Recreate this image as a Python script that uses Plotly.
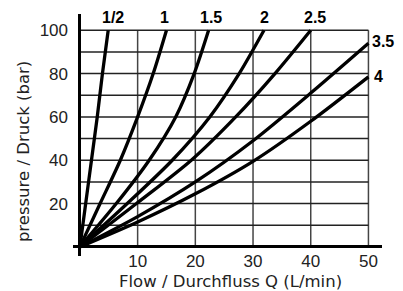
import plotly.graph_objects as go

# ---- data ----
pressure_steps = [0, 20, 40, 60, 80, 100]          # bar
flow_half = [0, 1.0, 2.0, 3.0, 3.9, 4.9]            # L/min, curve "1/2"
flow_1 = [0, 3.5, 7.0, 10.0, 12.7, 15.0]            # curve "1"
flow_1_5 = [0, 6.3, 12.0, 16.6, 19.8, 22.3]         # curve "1.5"
flow_2 = [0, 8.2, 16.0, 22.5, 27.6, 31.9]           # curve "2"
flow_2_5 = [0, 9.8, 19.3, 27.0, 33.8, 40.0]         # curve "2.5"

flow_steps = [0, 10, 20, 30, 40, 50]                # L/min
pressure_3_5 = [0, 14.0, 30.0, 49.0, 71.0, 94.0]    # curve "3.5"
pressure_4 = [0, 11.5, 24.5, 39.5, 58.0, 78.5]      # curve "4"

curve_labels = ["1/2", "1", "1.5", "2", "2.5", "3.5", "4"]
label_q = [5.7, 14.7, 22.7, 31.9, 40.7, 50.3, 50.7]
label_p = [106, 106, 106, 106, 106, 95, 78.5]
label_anchor = ["center", "center", "center", "center", "center", "left", "left"]

x_ticks = [10, 20, 30, 40, 50]
y_ticks = [20, 40, 60, 80, 100]
x_grid = [10, 20, 30, 40, 50]
y_grid = [10, 20, 30, 40, 50, 60, 70, 80, 90, 100]

x_title = "Flow / Durchfluss Q (L/min)"
y_title = "pressure / Druck (bar)"

fig = go.Figure()

line_style = dict(color="black", width=3.3, shape="spline", smoothing=0.8)
for q in [flow_half, flow_1, flow_1_5, flow_2, flow_2_5]:
    fig.add_trace(go.Scatter(x=q, y=pressure_steps, mode="lines", line=line_style,
                             hoverinfo="skip", showlegend=False))
for p in [pressure_3_5, pressure_4]:
    fig.add_trace(go.Scatter(x=flow_steps, y=p, mode="lines", line=line_style,
                             hoverinfo="skip", showlegend=False))

shapes = []
for gx in x_grid:
    shapes.append(dict(type="line", xref="x", yref="y", x0=gx, x1=gx, y0=0, y1=max(y_grid),
                       line=dict(color="#444", width=1.5), layer="below"))
for gy in y_grid:
    shapes.append(dict(type="line", xref="x", yref="y", x0=0, x1=max(x_grid), y0=gy, y1=gy,
                       line=dict(color="#222", width=1.5), layer="below"))

annotations = []
for t, q, p, a in zip(curve_labels, label_q, label_p, label_anchor):
    annotations.append(dict(x=q, y=p, xref="x", yref="y", text=t, showarrow=False,
                            xanchor=a, yanchor="middle",
                            font=dict(family="Liberation Sans", size=16, color="black", weight="bold")))
annotations.append(dict(x=-0.158, y=0.43, xref="paper", yref="paper", text=y_title,
                        showarrow=False, textangle=-90, xanchor="center", yanchor="middle",
                        font=dict(family="DejaVu Sans", size=16.5, color="#222")))
annotations.append(dict(x=0.51, y=-0.107, xref="paper", yref="paper", text=x_title,
                        showarrow=False, xanchor="center", yanchor="middle",
                        font=dict(family="DejaVu Sans", size=16.5, color="#222")))

# the page body has an 8px default margin, so the figure is 8px smaller on each axis
fig.update_layout(
    template="none",
    width=395, height=283,
    margin=dict(l=65, r=21, t=6, b=35, pad=0),
    paper_bgcolor="white", plot_bgcolor="white",
    shapes=shapes, annotations=annotations,
    xaxis=dict(range=[-1.2, 52.35], tickvals=x_ticks, showgrid=False, automargin=False,
               zeroline=True, zerolinecolor="black", zerolinewidth=3,
               showline=False, ticks="", anchor="free", position=0.03,
               tickfont=dict(family="Liberation Sans", size=17, color="#222")),
    yaxis=dict(range=[-4.2, 107.5], tickvals=y_ticks, showgrid=False, automargin=False,
               zeroline=True, zerolinecolor="black", zerolinewidth=3,
               showline=False, ticks="", ticklabelstandoff=4,
               tickfont=dict(family="Liberation Sans", size=17, color="#222")),
)

fig.write_html("out.html")
